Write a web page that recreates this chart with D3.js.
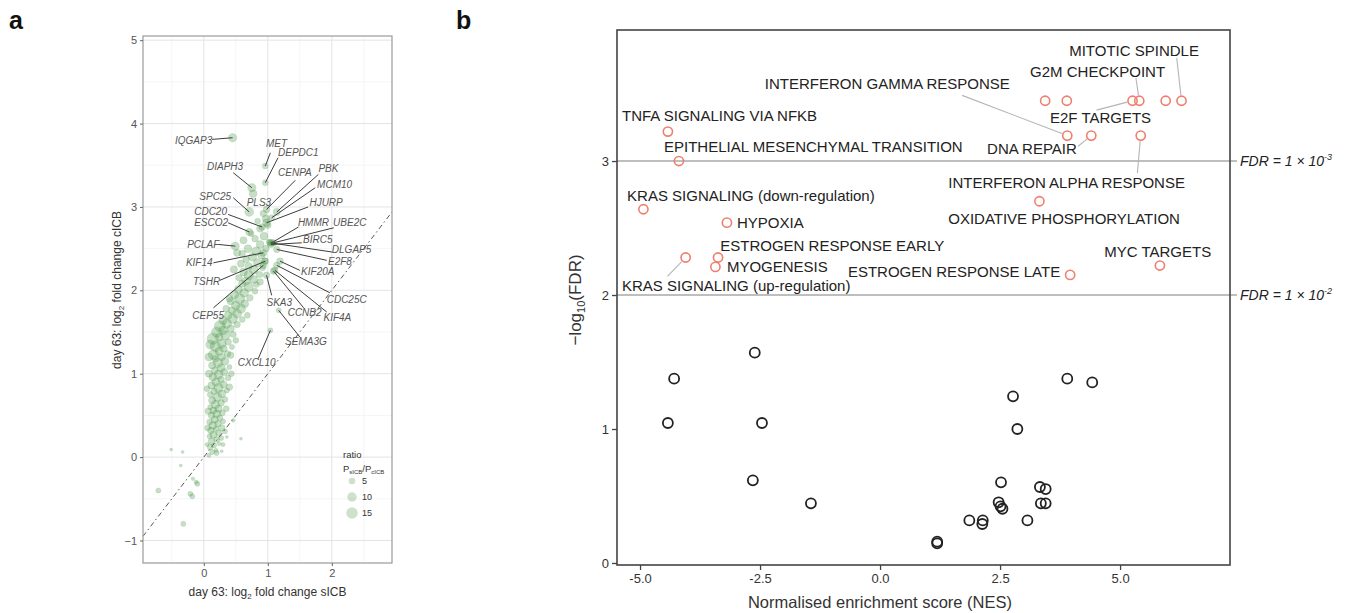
<!DOCTYPE html>
<html><head><meta charset="utf-8">
<script src="https://cdn.jsdelivr.net/npm/d3@7"></script>
<style>body{margin:0;background:#fff}svg{display:block;font-family:"Liberation Sans",Arial,Helvetica,sans-serif}</style>
</head><body><svg id="c" width="1346" height="613"></svg>
<script>
// ---------------- DATA: panel a ----------------
// cloud of genes: [log2FC sICB, log2FC cICB, ratio P_sICB/P_cICB]
const cloudPoints = [
[0.08,0.02,2],[0.13,0.06,3],[0.19,0.08,2],[0.1,0.12,4],[0.16,0.14,3],[0.24,0.16,2],[0.12,0.19,5],[0.2,0.21,4],[0.27,0.23,3],[0.09,0.25,3],[0.15,0.27,6],[0.23,0.29,4],[0.11,0.32,5],[0.19,0.34,3],[0.28,0.35,5],[0.14,0.38,7],[0.22,0.4,5],[0.09,0.42,4],[0.3,0.43,3],[0.17,0.45,6],[0.25,0.47,4],[0.12,0.5,5],[0.2,0.52,7],[0.29,0.53,4],[0.15,0.56,5],[0.23,0.58,6],[0.1,0.6,3],
[0.18,0.63,8],[0.27,0.65,5],[0.13,0.68,6],[0.33,0.69,4],[0.21,0.72,9],[0.1,0.75,4],[0.28,0.76,7],[0.16,0.79,5],[0.36,0.8,3],[0.23,0.83,10],[0.12,0.86,6],[0.31,0.87,6],[0.19,0.9,8],[0.27,0.93,5],[0.38,0.95,4],[0.14,0.96,7],[0.23,0.99,9],[0.32,1.02,6],[0.17,1.04,5],[0.27,1.07,8],[0.4,1.08,3],[0.13,1.1,6],[0.22,1.13,10],[0.33,1.15,7],[0.18,1.18,5],[0.28,1.2,6],
[0.15,1.23,12],[0.37,1.24,5],[0.24,1.27,8],[0.31,1.3,6],[0.18,1.33,13],[0.44,1.32,3],[0.28,1.36,9],[0.38,1.38,5],[0.14,1.42,15],[0.24,1.44,7],[0.34,1.46,10],[0.46,1.47,4],[0.2,1.5,12],
[0.3,1.52,9],[0.42,1.54,6],[0.25,1.57,14],[0.36,1.6,10],[0.52,1.59,5],[0.3,1.64,8],[0.45,1.66,11],[0.6,1.65,4],[0.38,1.7,7],[0.52,1.72,9],[0.68,1.7,4],[0.44,1.76,6],[0.58,1.78,10],[0.35,1.78,5],
[0.5,1.82,9],[0.64,1.84,7],[0.42,1.87,6],[0.56,1.9,12],[0.72,1.91,5],[0.48,1.95,8],[0.63,1.97,9],[0.8,1.99,4],[0.54,2.01,7],[0.7,2.04,10],[0.6,2.08,6],[0.82,2.07,4],
[0.66,2.11,8],[0.78,2.13,7],[0.55,2.15,5],[0.7,2.18,10],[0.87,2.19,5],[0.62,2.22,7],[0.78,2.25,9],[0.92,2.27,4],[0.7,2.29,6],[0.58,2.32,6],[0.84,2.33,8],[0.66,2.37,5],
[0.76,2.4,8],[0.9,2.42,6],[0.6,2.44,5],[0.82,2.47,9],[0.97,2.5,5],[0.69,2.5,7],[0.88,2.55,7],[1.02,2.58,4],[0.62,2.6,6],[0.8,2.62,5],[0.94,2.65,7],[0.74,2.68,4],[0.88,2.74,6],[1.0,2.78,5],[0.84,2.83,4],[0.97,2.86,6],
[0.06,0.35,4],[0.33,0.31,3],[0.07,0.55,5],[0.35,0.58,4],[0.05,0.82,4],[0.4,0.84,5],[0.08,1.0,6],[0.43,1.0,4],[0.08,1.2,7],[0.42,1.22,5],[0.1,1.35,9],[0.5,1.4,4],[0.4,1.9,5],[0.47,2.25,6],[0.52,2.45,6],[0.95,2.35,5],[0.88,2.1,5],[0.2,0.05,3],[0.05,0.15,2],[0.3,0.15,2],
[-0.51,0.09,1],[-0.33,0.06,1],[-0.36,-0.10,1],[-0.71,-0.40,3],[-0.17,-0.26,1.5],[-0.10,-0.32,3],[-0.12,-0.30,2],[-0.21,-0.44,3],[-0.18,-0.47,3],[-0.32,-0.80,3],[0.36,0.24,1],[0.58,0.22,1],[0.28,0.07,1],[0.46,0.44,1.5]
];
// labelled genes
const geneNames = ["IQGAP3","MET","DEPDC1","DIAPH3","CENPA","PBK","MCM10","SPC25","PLS3","HJURP","CDC20","ESCO2","HMMR","UBE2C","BIRC5","PCLAF","DLGAP5","E2F8","KIF14","KIF20A","TSHR","CDC25C","SKA3","CEP55","CCNB2","KIF4A","SEMA3G","CXCL10"];
const geneSICB = [0.45,0.96,0.96,0.75,0.98,1.14,1.06,0.71,0.93,0.98,0.91,0.71,1.06,1.09,1.05,0.49,1.04,1.14,0.93,1.19,0.96,1.14,0.98,0.93,1.09,1.11,1.17,1.04];
const geneCICB = [3.83,3.49,3.29,3.23,2.97,2.94,2.87,2.94,2.92,2.81,2.76,2.70,2.57,2.57,2.55,2.53,2.57,2.49,2.45,2.35,2.35,2.30,2.18,2.30,2.23,2.24,1.76,1.52];
const geneRatio = [8,4,4,8,5,6,4,9,5,7,5,6,5,5,5,8,5,5,6,5,5,5,5,5,5,5,3,3];
const extraGene = [[0.77,3.16,7]]; // second DIAPH3-area point
// label layout (data units): text left x, text centre y, leader start x, y (null = no leader)
const geneLabelPos = [
[-0.45,3.80,0.13,3.81],[0.97,3.76,1.04,3.65],[1.16,3.65,1.16,3.59],[0.05,3.49,0.46,3.41],[1.16,3.41,1.43,3.32],
[1.79,3.46,1.79,3.39],[1.77,3.27,1.74,3.23],[-0.07,3.12,0.46,3.11],[0.67,3.05,null,null],[1.65,3.05,1.63,3.00],
[-0.15,2.94,0.38,2.91],[-0.15,2.81,0.38,2.81],[1.47,2.81,1.48,2.76],[2.02,2.81,2.03,2.75],[1.55,2.61,1.53,2.57],
[-0.26,2.55,0.23,2.55],[2.00,2.49,2.00,2.46],[1.94,2.35,1.92,2.36],[-0.28,2.33,0.15,2.33],[1.52,2.22,1.50,2.24],
[-0.17,2.10,0.25,2.12],[1.92,1.89,1.97,1.97],[0.98,1.86,1.06,1.94],[-0.18,1.70,0.15,1.79],[1.31,1.73,1.56,1.79],
[1.87,1.68,1.92,1.74],[1.27,1.39,1.50,1.44],[0.53,1.13,0.85,1.18]];
const xTicksA = [0,1,2], yTicksA = [-1,0,1,2,3,4,5];
const xMinorA = [-0.5,0.5,1.5,2.5], yMinorA = [-0.5,0.5,1.5,2.5,3.5,4.5];
const legendRatios = [5,10,15];

// ---------------- DATA: panel b ----------------
const nsNES = [-4.29,-4.42,-2.61,-2.46,-2.65,-1.44,1.19,1.19,1.86,2.14,2.13,2.47,2.51,2.55,2.52,2.77,2.86,3.07,3.33,3.45,3.35,3.45,3.90,4.42];
const nsLogFDR = [1.376,1.045,1.57,1.045,0.617,0.445,0.159,0.147,0.318,0.318,0.291,0.453,0.423,0.405,0.602,1.244,1.0,0.318,0.567,0.552,0.445,0.445,1.376,1.348];
const sigNames = ["MITOTIC SPINDLE","G2M CHECKPOINT","INTERFERON GAMMA RESPONSE","E2F TARGETS","DNA REPAIR","TNFA SIGNALING VIA NFKB","EPITHELIAL MESENCHYMAL TRANSITION","KRAS SIGNALING (down-regulation)","HYPOXIA","ESTROGEN RESPONSE EARLY","MYOGENESIS","KRAS SIGNALING (up-regulation)","ESTROGEN RESPONSE LATE","INTERFERON ALPHA RESPONSE","OXIDATIVE PHOSPHORYLATION","MYC TARGETS","","",""];
const sigNES = [6.28,5.40,3.90,5.26,4.40,-4.42,-4.19,-4.93,-3.19,-3.375,-3.43,-4.05,3.96,5.43,3.32,5.83,3.44,3.89,5.95];
const sigLogFDR = [3.45,3.45,3.19,3.45,3.19,3.22,3.0,2.64,2.54,2.28,2.21,2.28,2.15,3.19,2.70,2.22,3.45,3.45,3.45];
// label layout (data units): text left x, centre y, leader start x, y
const sigLabelPos = [
[3.94,3.82,6.18,3.77],[3.125,3.67,5.33,3.62],[-2.40,3.58,1.71,3.49],[3.54,3.32,4.51,3.38],[2.23,3.09,4.125,3.11],
[-5.375,3.34,null,null],[-4.5,3.11,null,null],[-5.27,2.74,null,null],[-2.98,2.54,null,null],[-3.33,2.37,null,null],
[-3.19,2.21,null,null],[-5.375,2.07,-4.43,2.14],[-0.67,2.17,null,null],[1.42,2.84,5.36,2.91],[1.42,2.57,null,null],
[4.67,2.32,null,null],null,null,null];
const fdrLines = [3,2];
const fdrExp = ["-3","-2"];
const xTicksB = [-5,-2.5,0,2.5,5], yTicksB = [0,1,2,3];

// ---------------- DRAW ----------------
const svg = d3.select("#c");
const FONT = '"Liberation Sans",Arial,Helvetica,sans-serif';

svg.append("text").attr("x",9).attr("y",29).attr("font-size",25).attr("font-weight","bold").attr("fill","#111").text("a");
svg.append("text").attr("x",456).attr("y",29).attr("font-size",25).attr("font-weight","bold").attr("fill","#111").text("b");

// ----- panel a -----
const xa = d3.scaleLinear().domain([-0.95,2.94]).range([143,392]);
const ya = d3.scaleLinear().domain([-1.27,5.05]).range([563,36]);
const rA = d3.scaleSqrt().domain([0,15]).range([0,5.75]);
const ga = svg.append("g");
svg.append("clipPath").attr("id","clipA").append("rect")
  .attr("x",xa.range()[0]).attr("y",ya.range()[1]).attr("width",xa.range()[1]-xa.range()[0]).attr("height",ya.range()[0]-ya.range()[1]);
ga.selectAll(".gxm").data(xMinorA).join("line").attr("x1",d=>xa(d)).attr("x2",d=>xa(d)).attr("y1",ya.range()[0]).attr("y2",ya.range()[1]).attr("stroke","#f1f1f1").attr("stroke-width",0.7);
ga.selectAll(".gym").data(yMinorA).join("line").attr("y1",d=>ya(d)).attr("y2",d=>ya(d)).attr("x1",xa.range()[0]).attr("x2",xa.range()[1]).attr("stroke","#f1f1f1").attr("stroke-width",0.7);
ga.selectAll(".gx").data(xTicksA).join("line").attr("x1",d=>xa(d)).attr("x2",d=>xa(d)).attr("y1",ya.range()[0]).attr("y2",ya.range()[1]).attr("stroke","#e4e4e4").attr("stroke-width",1);
ga.selectAll(".gy").data(yTicksA).join("line").attr("y1",d=>ya(d)).attr("y2",d=>ya(d)).attr("x1",xa.range()[0]).attr("x2",xa.range()[1]).attr("stroke","#e4e4e4").attr("stroke-width",1);

const pa = ga.append("g").attr("clip-path","url(#clipA)");
// identity line
pa.append("line").attr("x1",xa(-0.95)).attr("y1",ya(-0.95)).attr("x2",xa(2.94)).attr("y2",ya(2.94))
  .attr("stroke","#555").attr("stroke-width",1).attr("stroke-dasharray","5,3,1.5,3");
const allPts = cloudPoints.concat(geneSICB.map((x,i)=>[x,geneCICB[i],geneRatio[i]])).concat(extraGene);
pa.selectAll("circle.pt").data(allPts).join("circle").attr("class","pt")
  .attr("cx",d=>xa(d[0])).attr("cy",d=>ya(d[1])).attr("r",d=>rA(d[2]))
  .attr("fill","#4a9446").attr("fill-opacity",0.3).attr("stroke","#4a9446").attr("stroke-opacity",0.14);

// leader lines + labels
geneNames.forEach((g,i)=>{
  const p = geneLabelPos[i];
  if (p[2]!==null) {
    ga.append("line").attr("x1",xa(p[2])).attr("y1",ya(p[3])).attr("x2",xa(geneSICB[i])).attr("y2",ya(geneCICB[i]))
      .attr("stroke","#3d3d3d").attr("stroke-width",1);
  }
  ga.append("text").attr("x",xa(p[0])).attr("y",ya(p[1])).attr("dy","0.35em")
    .attr("font-size",10).attr("font-style","italic").attr("fill","#555").text(g);
});

// border
ga.append("rect").attr("x",xa.range()[0]).attr("y",ya.range()[1]).attr("width",xa.range()[1]-xa.range()[0]).attr("height",ya.range()[0]-ya.range()[1])
  .attr("fill","none").attr("stroke","#9a9a9a").attr("stroke-width",1.2);

const axA = ga.append("g").attr("transform",`translate(${xa.range()[0]},0)`)
  .call(d3.axisLeft(ya).tickValues(yTicksA).tickSize(3).tickPadding(3).tickFormat(d3.format("d")));
axA.select(".domain").remove();
axA.selectAll("line").attr("stroke","#666");
axA.selectAll("text").attr("font-size",11).attr("fill","#555").attr("font-family",FONT);
const axAx = ga.append("g").attr("transform",`translate(0,${ya.range()[0]})`)
  .call(d3.axisBottom(xa).tickValues(xTicksA).tickSize(3).tickPadding(3).tickFormat(d3.format("d")));
axAx.select(".domain").remove();
axAx.selectAll("line").attr("stroke","#666");
axAx.selectAll("text").attr("font-size",11).attr("fill","#555").attr("font-family",FONT);

const tya = ga.append("text").attr("transform","translate(121,290) rotate(-90)").attr("text-anchor","middle").attr("font-size",12).attr("fill","#333");
tya.append("tspan").text("day 63: log");
tya.append("tspan").attr("font-size",8).attr("dy",3).text("2");
tya.append("tspan").attr("dy",-3).text(" fold change cICB");
const txa = ga.append("text").attr("x",(xa.range()[0]+xa.range()[1])/2).attr("y",596).attr("text-anchor","middle").attr("font-size",12).attr("fill","#333");
txa.append("tspan").text("day 63: log");
txa.append("tspan").attr("font-size",8).attr("dy",3).text("2");
txa.append("tspan").attr("dy",-3).text(" fold change sICB");

// legend
const lg = ga.append("g");
lg.append("text").attr("x",343).attr("y",458).attr("font-size",9.5).attr("fill","#333").text("ratio");
const lt = lg.append("text").attr("x",343).attr("y",472).attr("font-size",9.5).attr("fill","#333");
lt.append("tspan").text("P");
lt.append("tspan").attr("font-size",6).attr("dy",2).text("sICB");
lt.append("tspan").attr("dy",-2).text("/P");
lt.append("tspan").attr("font-size",6).attr("dy",2).text("cICB");
legendRatios.forEach((v,i)=>{
  const cy = 481 + i*16;
  lg.append("circle").attr("cx",352).attr("cy",cy).attr("r",rA(v)).attr("fill","#4a9446").attr("fill-opacity",0.28);
  lg.append("text").attr("x",362).attr("y",cy).attr("dy","0.35em").attr("font-size",9).attr("fill","#333").text(v);
});

// ----- panel b -----
const xb = d3.scaleLinear().domain([-5.48,7.29]).range([617,1230]);
const yb = d3.scaleLinear().domain([-0.015,3.978]).range([565,30]);
const gb = svg.append("g");
fdrLines.forEach((v,i)=>{
  gb.append("line").attr("x1",xb.range()[0]).attr("x2",xb.range()[1]+7).attr("y1",yb(v)).attr("y2",yb(v))
    .attr("stroke","#a8a8a8").attr("stroke-width",1.4);
  const t = gb.append("text").attr("x",xb.range()[1]+10).attr("y",yb(v)+5).attr("font-size",14).attr("font-style","italic").attr("fill","#222");
  t.append("tspan").text("FDR = 1 × 10");
  t.append("tspan").attr("font-size",9).attr("dy",-6).text(fdrExp[i]);
});
gb.append("rect").attr("x",xb.range()[0]).attr("y",yb.range()[1]).attr("width",xb.range()[1]-xb.range()[0]).attr("height",yb.range()[0]-yb.range()[1])
  .attr("fill","none").attr("stroke","#444").attr("stroke-width",1.6);
gb.selectAll("circle.ns").data(nsNES).join("circle").attr("class","ns")
  .attr("cx",d=>xb(d)).attr("cy",(d,i)=>yb(nsLogFDR[i])).attr("r",5)
  .attr("fill","none").attr("stroke","#222").attr("stroke-width",1.8);
const RR = 4.6;
gb.selectAll("circle.sig").data(sigNES).join("circle").attr("class","sig")
  .attr("cx",d=>xb(d)).attr("cy",(d,i)=>yb(sigLogFDR[i])).attr("r",RR)
  .attr("fill","none").attr("stroke","#ee7f6f").attr("stroke-width",1.6);
sigNames.forEach((n,i)=>{
  const p = sigLabelPos[i];
  if (!p) return;
  if (p[2]!==null) {
    const x1 = xb(p[2]), y1 = yb(p[3]), x2 = xb(sigNES[i]), y2 = yb(sigLogFDR[i]);
    const L = Math.hypot(x2-x1,y2-y1), k = (L-RR-1)/L;
    gb.append("line").attr("x1",x1).attr("y1",y1).attr("x2",x1+(x2-x1)*k).attr("y2",y1+(y2-y1)*k)
      .attr("stroke","#b5b5b5").attr("stroke-width",1.1);
  }
  gb.append("text").attr("x",xb(p[0])).attr("y",yb(p[1])).attr("dy","0.35em").attr("font-size",15).attr("fill","#222").text(n);
});
const axBy = gb.append("g").attr("transform",`translate(${xb.range()[0]},0)`)
  .call(d3.axisLeft(yb).tickValues(yTicksB).tickSize(5).tickPadding(3).tickFormat(d=>String(d)));
axBy.select(".domain").remove();
axBy.selectAll("line").attr("stroke","#444").attr("stroke-width",1.3);
axBy.selectAll("text").attr("font-size",13).attr("fill","#333").attr("font-family",FONT);
const axBx = gb.append("g").attr("transform",`translate(0,${yb.range()[0]})`)
  .call(d3.axisBottom(xb).tickValues(xTicksB).tickSize(5).tickPadding(4).tickFormat(d=>d.toFixed(1)));
axBx.select(".domain").remove();
axBx.selectAll("line").attr("stroke","#444").attr("stroke-width",1.3);
axBx.selectAll("text").attr("font-size",13).attr("fill","#333").attr("font-family",FONT);

const tyb = gb.append("text").attr("transform","translate(581,300) rotate(-90)").attr("text-anchor","middle").attr("font-size",17).attr("fill","#333");
tyb.append("tspan").text("\u2212log");
tyb.append("tspan").attr("font-size",11).attr("dy",4).text("10");
tyb.append("tspan").attr("dy",-4).text("(FDR)");
gb.append("text").attr("x",880).attr("y",608).attr("text-anchor","middle").attr("font-size",16.5).attr("fill","#333").text("Normalised enrichment score (NES)");
</script></body></html>
